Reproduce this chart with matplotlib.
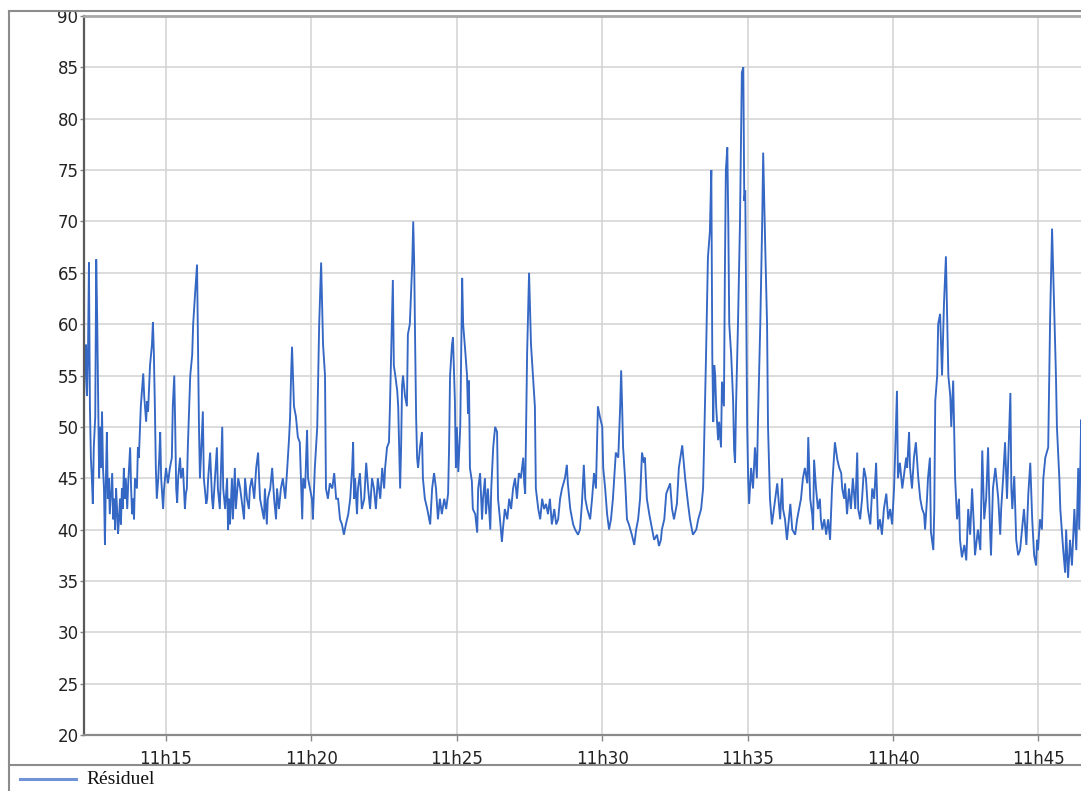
import matplotlib
matplotlib.use("Agg")
import matplotlib.pyplot as plt
from matplotlib.lines import Line2D

# ---- data: seconds elapsed after 11h12m00s, and the "Résiduel" value ----
elapsed_s = [
    11, 13, 15, 17, 19, 21, 23, 25, 27, 29,
    31, 34, 36, 38, 40, 42, 44, 46, 48, 50,
    52, 54, 56, 58, 60, 62, 64, 67, 69, 71,
    73, 75, 77, 79, 81, 83, 85, 87, 89, 91,
    93, 95, 97, 100, 102, 106, 108, 110, 112, 114,
    116, 120, 122, 124, 128, 133, 135, 139, 141, 143,
    147, 151, 153, 155, 157, 159, 161, 164, 166, 168,
    170, 174, 176, 180, 184, 188, 192, 194, 197, 199,
    201, 203, 205, 209, 211, 215, 219, 221, 223, 225,
    230, 234, 236, 240, 244, 246, 248, 250, 252, 256,
    258, 260, 263, 265, 267, 271, 275, 277, 281, 285,
    287, 291, 296, 298, 302, 306, 308, 310, 312, 316,
    318, 322, 324, 329, 333, 337, 341, 343, 347, 351,
    353, 357, 362, 366, 370, 372, 374, 378, 382, 384,
    388, 390, 395, 399, 403, 407, 409, 413, 417, 421,
    426, 430, 434, 436, 438, 440, 442, 444, 448, 452,
    456, 459, 461, 463, 467, 471, 473, 477, 481, 483,
    487, 492, 496, 500, 502, 504, 508, 510, 514, 518,
    523, 527, 531, 535, 539, 543, 547, 551, 556, 560,
    564, 566, 568, 570, 574, 576, 580, 584, 589, 593,
    597, 601, 605, 609, 613, 617, 622, 626, 630, 632,
    636, 640, 642, 644, 648, 650, 653, 657, 659, 663,
    665, 667, 669, 673, 677, 679, 683, 688, 690, 692,
    694, 696, 698, 700, 704, 708, 710, 714, 719, 725,
    729, 733, 737, 741, 745, 749, 754, 758, 762, 764,
    766, 770, 772, 776, 778, 780, 783, 787, 789, 791,
    793, 797, 801, 803, 805, 807, 811, 813, 818, 822,
    824, 828, 832, 834, 838, 840, 844, 849, 851, 855,
    859, 863, 865, 869, 873, 875, 879, 884, 888, 892,
    896, 900, 904, 908, 912, 917, 919, 921, 925, 929,
    933, 937, 941, 943, 948, 952, 956, 960, 964, 968,
    972, 976, 981, 985, 989, 993, 997, 1003, 1007, 1009,
    1014, 1020, 1024, 1030, 1034, 1038, 1040, 1042, 1045, 1049,
    1055, 1059, 1063, 1067, 1071, 1075, 1080, 1082, 1086, 1090,
    1094, 1098, 1102, 1108, 1113, 1117, 1119, 1121, 1123, 1127,
    1131, 1135, 1141, 1146, 1150, 1154, 1158, 1162, 1166, 1168,
    1172, 1177, 1183, 1187, 1193, 1197, 1201, 1203, 1208, 1212,
    1216, 1220, 1224, 1228, 1234, 1238, 1245, 1251, 1257, 1261,
    1267, 1274, 1278, 1284, 1288, 1290, 1294, 1298, 1302, 1305,
    1307, 1309, 1311, 1313, 1315, 1319, 1321, 1325, 1327, 1331,
    1333, 1335, 1338, 1340, 1342, 1346, 1350, 1352, 1354, 1356,
    1360, 1364, 1368, 1371, 1373, 1375, 1377, 1379, 1381, 1383,
    1387, 1391, 1395, 1399, 1401, 1406, 1410, 1412, 1416, 1420,
    1422, 1426, 1430, 1437, 1441, 1447, 1451, 1453, 1457, 1461,
    1468, 1472, 1478, 1482, 1486, 1490, 1494, 1498, 1503, 1505,
    1509, 1513, 1515, 1517, 1521, 1525, 1529, 1531, 1534, 1538,
    1542, 1546, 1550, 1554, 1560, 1565, 1569, 1573, 1575, 1579,
    1581, 1585, 1589, 1593, 1597, 1602, 1606, 1608, 1612, 1616,
    1620, 1624, 1628, 1633, 1637, 1641, 1645, 1649, 1653, 1657,
    1661, 1666, 1670, 1674, 1678, 1682, 1684, 1688, 1690, 1694,
    1699, 1703, 1707, 1709, 1713, 1715, 1719, 1723, 1727, 1732,
    1736, 1740, 1744, 1746, 1750, 1752, 1756, 1758, 1763, 1765,
    1767, 1771, 1773, 1777, 1781, 1785, 1789, 1794, 1796, 1798,
    1800, 1804, 1808, 1812, 1816, 1818, 1822, 1827, 1831, 1835,
    1839, 1843, 1847, 1849, 1855, 1860, 1864, 1868, 1872, 1876,
    1880, 1882, 1886, 1891, 1897, 1901, 1903, 1907, 1911, 1915,
    1922, 1924, 1926, 1930, 1934, 1938, 1942, 1946, 1950, 1955,
    1959, 1963, 1967, 1971, 1975, 1977, 1979, 1983, 1987, 1990,
    1994, 2000, 2004, 2008, 2012, 2016, 2018, 2023, 2025, 2031,
    2035, 2037, 2041, 2045, 2049, 2054, 2058, 2062, 2064, 2068,
    2072,
]

residuel = [
    53, 56, 58, 53, 57, 66, 52, 47, 45, 42.5,
    48, 51, 66.3, 60.5, 53, 45, 50, 46, 51.5, 46,
    44, 38.5, 45, 49.5, 43, 45, 41.5, 44, 45.5, 41,
    43, 40, 44, 42, 39.6, 41, 43, 40.5, 44, 42,
    46, 43, 45, 42, 44.5, 48, 44, 41.5, 43, 41,
    45, 44, 48, 47, 52, 55.2, 53, 50.5, 52.5, 51.5,
    56, 58, 60.2, 57, 52, 46, 43, 45, 47, 49.5,
    45, 42, 44, 46, 44.5, 46, 47, 52, 55, 50,
    44, 42.6, 45, 47, 45, 46, 42, 43.5, 44, 48,
    55, 57, 60, 63, 65.8, 58, 50, 45, 47, 51.5,
    45, 44, 42.5, 43, 45, 47.5, 43, 42, 45, 48,
    44, 42, 50, 44, 42, 45, 40, 43, 40.5, 45,
    41, 46, 42, 45, 44, 42.5, 41, 45, 43, 42,
    44, 45, 43, 46, 47.5, 45, 43, 42, 41, 44,
    40.5, 43, 44, 46, 43, 41, 44, 42, 44, 45,
    43, 45.9, 49, 51, 55, 57.8, 55, 52, 51, 49,
    48.5, 44, 41, 45, 44, 49.7, 45, 44, 43, 41,
    46, 50, 60, 66, 62, 58, 55, 44, 43, 44.5,
    44, 45.5, 43, 43, 41, 40.5, 39.5, 40.5, 41.5, 43,
    46, 48.5, 43, 45, 41.5, 44, 45.5, 42, 43, 46.5,
    44, 42, 45, 44, 42, 45, 43, 46, 44, 46,
    48, 48.5, 52, 56, 64.3, 56, 55, 53.5, 52, 44,
    48, 54, 55, 53, 52, 59, 60, 66, 70, 66,
    58, 51, 47, 46, 48, 49.5, 45, 43, 42, 40.5,
    44, 45.5, 44, 41, 43, 41.5, 43, 42, 43.5, 48,
    55, 58, 58.7, 52.5, 46, 50, 45.6, 50, 57, 64.5,
    60, 57.6, 55, 51.3, 54.5, 46, 44.7, 42, 41.5, 39.7,
    44, 45.5, 41, 43, 45, 41.5, 44, 40, 44, 48,
    50, 49.5, 43, 41, 38.8, 40, 42, 41, 43, 42,
    44, 45, 43, 45.5, 45, 47, 44.5, 43.5, 57.2, 65,
    58, 55, 52, 44, 42, 41, 43, 42, 42.5, 41.5,
    43, 40.5, 42, 40.5, 41, 43, 44, 45, 46.3, 44.5,
    42, 40.5, 40, 39.5, 40, 42.5, 44.5, 46.3, 43, 42,
    41, 43, 45.5, 44, 52, 51, 50, 46, 44, 41.5,
    40, 41, 43, 47.5, 47, 52, 55.5, 52, 48, 45,
    41, 40.5, 39.5, 38.5, 40, 41, 43, 47.5, 46.5, 47,
    43, 41.5, 40, 39, 39.5, 38.4, 39, 40, 41, 43.5,
    44, 44.5, 42, 41, 42.5, 46, 48.2, 45, 42.5, 41,
    39.5, 40, 41, 42, 44, 48, 56.7, 66.5, 69, 75,
    57, 50.5, 56, 55, 52, 48.7, 50.5, 48, 54.4, 52,
    65, 75, 77.2, 70, 60, 57, 52.5, 47.8, 46.5, 52,
    60, 69.5, 84.5, 85, 72, 73, 61.5, 50, 45, 42.5,
    46, 44, 48, 45, 50, 60, 70, 76.7, 68, 60,
    50, 43, 40.5, 43, 44.5, 41, 45, 42, 41, 39,
    42.5, 40, 39.5, 41, 42, 43, 45, 46, 44.5, 49,
    43, 41.5, 40, 46.8, 44, 42, 43, 41, 40, 41,
    39.5, 41, 39, 44, 48.5, 46.8, 46, 45.5, 44, 43,
    44.5, 41.5, 44, 42, 45, 42, 47.5, 42, 41, 43,
    46, 45, 42, 40.5, 44, 43, 46.5, 40, 41, 39.5,
    42, 43.5, 41, 42, 40.5, 44, 47, 53.5, 45, 46.5,
    44, 45.5, 47, 46, 49.5, 46, 44, 47, 48.5, 45,
    43, 42, 41.5, 40, 43, 45, 47, 39.8, 38, 42,
    52.5, 55, 60, 61, 55, 62, 66.6, 55, 54, 53,
    50, 54.5, 45, 41, 43, 39, 37.3, 38.5, 37, 42,
    39.5, 44, 40, 37.5, 40, 38, 47.7, 41, 43, 48,
    40, 37.5, 44, 46, 43, 39.5, 42, 45, 48.5, 43,
    53.3, 44, 42, 45.2, 39, 37.5, 38, 40, 42, 38.5,
    43.5, 46.5, 41, 37.5, 36.5, 39, 38, 41, 40, 45,
    47, 48, 60.6, 69.3, 62, 55, 50, 45, 42, 38,
    35.8, 40, 35.3, 39, 36.5, 42, 38, 46, 40, 50.7,
    48,
]

start_hour, start_minute = 11, 12
tick_minutes = [15, 20, 25, 30, 35, 40, 45]
tick_labels = ["11h15", "11h20", "11h25", "11h30", "11h35", "11h40", "11h45"]
y_ticks = [20, 25, 30, 35, 40, 45, 50, 55, 60, 65, 70, 75, 80, 85, 90]
x_range_s = (10.8, 2078)
series_name = "Résiduel"

# ---- figure ----
W, H = 1081, 791
fig = plt.figure(figsize=(W / 100, H / 100), dpi=100)
fig.patch.set_facecolor("white")
ax = fig.add_axes([84 / W, (H - 735) / H, (1086 - 84) / W, (735 - 16) / H])

ax.plot(elapsed_s, residuel, color="#3567c4", lw=1.35, solid_joinstyle="miter")

ax.set_xlim(*x_range_s)
ax.set_ylim(y_ticks[0], y_ticks[-1])
ax.set_xticks([(m - start_minute) * 60 for m in tick_minutes])
ax.set_xticklabels(tick_labels)
ax.set_yticks(y_ticks)

ax.grid(True, color="#d2d2d2", lw=1.1)
ax.set_axisbelow(True)

ax.spines["right"].set_visible(False)
ax.spines["top"].set_color("#a8a8a8")
ax.spines["top"].set_linewidth(2)
ax.spines["left"].set_color("#5a5a5a")
ax.spines["left"].set_linewidth(1.6)
ax.spines["bottom"].set_color("#8a8a8a")
ax.spines["bottom"].set_linewidth(1.6)

ax.tick_params(axis="y", length=3, width=1, color="#888888", pad=1,
               labelsize=12, labelcolor="#222222")
ax.tick_params(axis="x", length=4, width=1, color="#888888", pad=7,
               labelsize=12, labelcolor="#222222")
for lab in ax.get_xticklabels() + ax.get_yticklabels():
    lab.set_family("DejaVu Sans")

# outer frame and legend strip
frame_kw = dict(transform=fig.transFigure, color="#8c8c8c", lw=1.5)
fig.add_artist(Line2D([9 / W, 9 / W], [0, 1 - 11 / H], **frame_kw))
fig.add_artist(Line2D([9 / W, 1], [1 - 11 / H, 1 - 11 / H], **frame_kw))
fig.add_artist(Line2D([9 / W, 1], [1 - 765 / H, 1 - 765 / H], **frame_kw))

# legend
fig.add_artist(Line2D([20 / W, 76 / W], [1 - 779 / H, 1 - 779 / H],
                      transform=fig.transFigure, color="#6f93d6", lw=2.2))
fig.text(86 / W, 1 - 779 / H, series_name, family="Liberation Serif",
         fontsize=14, color="#111111", va="center", ha="left")

fig.savefig("out.png", dpi=100, facecolor="white")
